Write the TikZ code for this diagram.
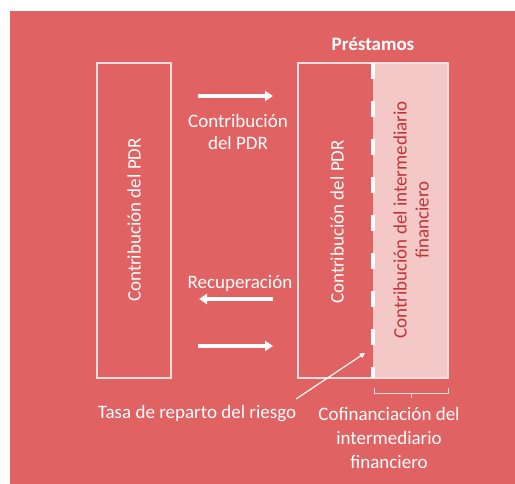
\documentclass[tikz,border=0pt]{standalone}
\usepackage{fontspec}
\setmainfont{Carlito}
\usetikzlibrary{arrows.meta}
\definecolor{bgred}{RGB}{224,98,98}
\definecolor{lightpink}{RGB}{245,200,200}
\definecolor{darkred}{RGB}{192,52,52}
\definecolor{edgepink}{RGB}{250,222,222}
\tikzset{
	lbl/.style={text=white, font=\fontsize{19bp}{22bp}\selectfont, align=center, inner sep=0pt},
	flow/.style={white, line width=3.5bp, -{Triangle[length=8bp,width=10bp]}},
	boxline/.style={edgepink, line width=1.5bp}
}
\begin{document}
\begin{tikzpicture}[x=1bp, y=-1bp]
			\useasboundingbox (0,0) rectangle (515,484);
			%background
			\fill[bgred] (10,11) rectangle (515,484);
			
			%boxes
			\fill[lightpink] (373,63) rectangle (448,378);
			\draw[boxline] (97,63) rectangle (171,378);
			\draw[boxline] (298,63) rectangle (448,378);
			\draw[white, line width=4bp, dash pattern=on 16bp off 22bp] (373,63) -- (373,378);
			
			\node[lbl, font=\fontsize{19bp}{22bp}\selectfont\bfseries] (prest) at (373,44){Préstamos};
			\node[lbl, rotate=90] (pdrl) at (134,220){Contribución del PDR};
			\node[lbl, rotate=90] (pdrr) at (337,222){Contribución del PDR};
			\node[lbl, rotate=90, text=darkred, font=\fontsize{19bp}{22bp}\selectfont] (inter) at (411,220){Contribución del intermediario\\financiero};
			
			%flows between the boxes
			\foreach \y/\n in {96/a, 346/b}{
				\coordinate (s\n) at (198,\y);
				\coordinate (e\n) at (273,\y);
				\draw[flow] (s\n) -- (e\n);
			}
			\coordinate (sr) at (273,299);
			\coordinate (er) at (199,299);
			\draw[flow] (sr) -- (er);
			\node[lbl] (contr) at (238,132){Contribución\\del PDR};
			\node[lbl] (recup) at (240,283){Recuperación};
			
			%bottom labels
			\node[lbl] (tasa) at (197,414){Tasa de reparto del riesgo};
			\coordinate (tip) at (365,353);
			\coordinate (foot) at (296,399);
			\draw[white, line width=1.2bp, -{Triangle[length=5bp,width=5bp]}] (foot) -- (tip);
			\draw[edgepink, line width=1bp] (374,388) -- (374,393) -- (448,393) -- (448,388);
			\coordinate (bmid) at (411,393);
			\coordinate (bend) at (411,398);
			\draw[edgepink, line width=1bp] (bmid) -- (bend);
			\node[lbl, font=\fontsize{19bp}{24bp}\selectfont] (cofin) at (389,438){Cofinanciación del\\intermediario\\financiero};
\end{tikzpicture}
\end{document}
